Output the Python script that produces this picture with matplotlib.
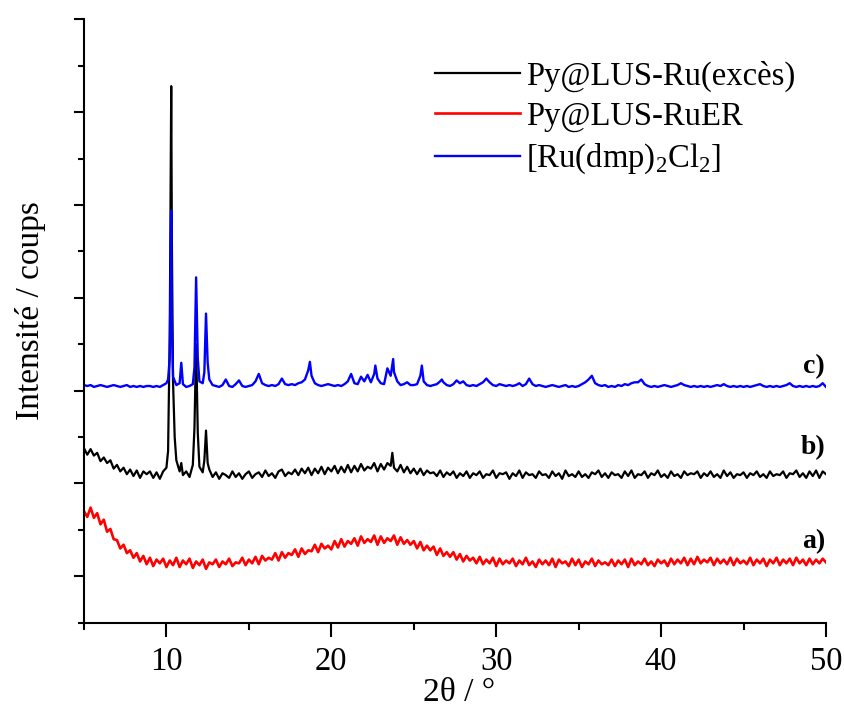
import numpy as np
import matplotlib
matplotlib.use("Agg")
import matplotlib.pyplot as plt
from matplotlib.ticker import MultipleLocator

plt.rcParams['font.family'] = ['Liberation Serif', 'DejaVu Serif']
plt.rcParams['mathtext.fontset'] = 'custom'
plt.rcParams['mathtext.rm'] = 'Liberation Serif'

# scan grid, step 0.2 deg (2theta)
two_theta = np.arange(5.0, 50.001, 0.2)

labels = ['Py@LUS-Ru(excès)', 'Py@LUS-RuER', r'[Ru(dmp)$_\mathrm{2}$Cl$_\mathrm{2}$]']
curve_tags = ['b)', 'a)', 'c)']

# intensities (offset units, one row = 2 deg)
black_y = [
    1.38, 1.31, 1.37, 1.30, 1.33, 1.24, 1.28, 1.22, 1.25, 1.16,
    1.20, 1.13, 1.17, 1.10, 1.15, 1.08, 1.14, 1.06, 1.13, 1.10,
    1.13, 1.06, 1.12, 1.05, 1.13, 1.17, 2.60, 2.10, 1.25, 1.13,
    1.09, 1.13, 1.07, 1.20, 2.50, 1.18, 1.12, 1.57, 1.15, 1.07,
    1.12, 1.05, 1.11, 1.09, 1.06, 1.13, 1.07, 1.11, 1.05, 1.10,
    1.13, 1.06, 1.10, 1.12, 1.07, 1.14, 1.08, 1.11, 1.06, 1.13,
    1.15, 1.08, 1.12, 1.10, 1.15, 1.09, 1.16, 1.11, 1.17, 1.09,
    1.16, 1.11, 1.18, 1.10, 1.17, 1.13, 1.19, 1.11, 1.18, 1.12,
    1.20, 1.12, 1.19, 1.13, 1.21, 1.14, 1.18, 1.16, 1.22, 1.13,
    1.21, 1.15, 1.22, 1.19, 1.17, 1.13, 1.20, 1.12, 1.18, 1.11,
    1.16, 1.10, 1.16, 1.09, 1.14, 1.11, 1.12, 1.08, 1.14, 1.07,
    1.12, 1.09, 1.13, 1.06, 1.11, 1.08, 1.13, 1.06, 1.11, 1.09,
    1.13, 1.06, 1.10, 1.09, 1.14, 1.06, 1.11, 1.10, 1.12, 1.05,
    1.11, 1.08, 1.14, 1.06, 1.12, 1.09, 1.10, 1.06, 1.13, 1.09,
    1.10, 1.06, 1.13, 1.08, 1.11, 1.05, 1.14, 1.08, 1.10, 1.07,
    1.13, 1.07, 1.10, 1.06, 1.12, 1.10, 1.14, 1.07, 1.11, 1.06,
    1.12, 1.09, 1.10, 1.06, 1.13, 1.08, 1.14, 1.06, 1.10, 1.09,
    1.13, 1.06, 1.11, 1.09, 1.14, 1.07, 1.10, 1.06, 1.13, 1.08,
    1.10, 1.06, 1.13, 1.09, 1.11, 1.10, 1.13, 1.06, 1.11, 1.08,
    1.13, 1.07, 1.10, 1.06, 1.14, 1.08, 1.12, 1.06, 1.10, 1.09,
    1.12, 1.06, 1.11, 1.09, 1.13, 1.07, 1.10, 1.06, 1.13, 1.08,
    1.10, 1.09, 1.13, 1.06, 1.11, 1.10, 1.14, 1.07, 1.11, 1.06,
    1.13, 1.08, 1.14, 1.06, 1.13, 1.10,
]
black_peak_x = [10.1, 10.25, 10.29, 10.33, 10.5, 10.9, 11.7, 11.9, 12.3, 12.5, 23.7]
black_peak_y = [1.35, 4.20, 5.28, 3.60, 1.50, 1.22, 1.60, 1.55, 1.25, 1.22, 1.33]

red_y = [
    0.70, 0.64, 0.74, 0.63, 0.68, 0.56, 0.61, 0.48, 0.51, 0.40,
    0.39, 0.30, 0.34, 0.25, 0.28, 0.20, 0.25, 0.16, 0.22, 0.13,
    0.20, 0.11, 0.18, 0.14, 0.19, 0.10, 0.17, 0.12, 0.20, 0.10,
    0.17, 0.13, 0.19, 0.09, 0.16, 0.12, 0.18, 0.08, 0.15, 0.13,
    0.18, 0.10, 0.16, 0.13, 0.19, 0.11, 0.15, 0.14, 0.20, 0.12,
    0.18, 0.14, 0.21, 0.13, 0.22, 0.17, 0.20, 0.18, 0.25, 0.17,
    0.26, 0.20, 0.25, 0.23, 0.29, 0.21, 0.30, 0.24, 0.28, 0.27,
    0.34, 0.26, 0.35, 0.30, 0.33, 0.29, 0.38, 0.31, 0.40, 0.32,
    0.38, 0.35, 0.41, 0.33, 0.43, 0.36, 0.40, 0.37, 0.44, 0.34,
    0.43, 0.36, 0.41, 0.38, 0.44, 0.34, 0.42, 0.35, 0.39, 0.34,
    0.38, 0.30, 0.37, 0.28, 0.33, 0.28, 0.32, 0.23, 0.30, 0.22,
    0.26, 0.21, 0.26, 0.18, 0.24, 0.16, 0.22, 0.17, 0.20, 0.14,
    0.21, 0.13, 0.18, 0.14, 0.20, 0.11, 0.19, 0.13, 0.17, 0.14,
    0.19, 0.11, 0.17, 0.13, 0.20, 0.12, 0.16, 0.10, 0.18, 0.13,
    0.17, 0.12, 0.19, 0.10, 0.18, 0.14, 0.16, 0.11, 0.19, 0.12,
    0.18, 0.10, 0.16, 0.13, 0.19, 0.11, 0.17, 0.13, 0.15, 0.12,
    0.18, 0.11, 0.17, 0.13, 0.18, 0.10, 0.19, 0.12, 0.16, 0.13,
    0.19, 0.12, 0.16, 0.11, 0.18, 0.14, 0.17, 0.11, 0.19, 0.13,
    0.18, 0.14, 0.20, 0.12, 0.19, 0.13, 0.21, 0.14, 0.18, 0.15,
    0.20, 0.12, 0.19, 0.14, 0.18, 0.13, 0.20, 0.12, 0.19, 0.14,
    0.17, 0.13, 0.20, 0.12, 0.18, 0.14, 0.19, 0.11, 0.18, 0.14,
    0.20, 0.12, 0.18, 0.14, 0.19, 0.12, 0.20, 0.14, 0.18, 0.12,
    0.19, 0.13, 0.18, 0.14, 0.19, 0.15,
]

blue_y = [
    2.06, 2.05, 2.06, 2.04, 2.05, 2.06, 2.05, 2.04, 2.05, 2.06,
    2.05, 2.04, 2.05, 2.06, 2.04, 2.05, 2.04, 2.05, 2.04, 2.05,
    2.05, 2.04, 2.05, 2.04, 2.06, 2.08, 2.35, 2.15, 2.06, 2.08,
    2.07, 2.04, 2.05, 2.07, 3.22, 2.10, 2.08, 2.83, 2.12, 2.06,
    2.05, 2.04, 2.06, 2.12, 2.05, 2.04, 2.07, 2.11, 2.05, 2.04,
    2.05, 2.06, 2.10, 2.18, 2.08, 2.06, 2.05, 2.06, 2.05, 2.07,
    2.13, 2.07, 2.06, 2.07, 2.06, 2.08, 2.09, 2.12, 2.22, 2.16,
    2.08, 2.06, 2.05, 2.06, 2.07, 2.06, 2.05, 2.06, 2.05, 2.07,
    2.10, 2.18, 2.08, 2.07, 2.15, 2.10, 2.17, 2.09, 2.18, 2.13,
    2.08, 2.07, 2.24, 2.16, 2.20, 2.10, 2.06, 2.07, 2.09, 2.06,
    2.06, 2.07, 2.16, 2.10, 2.06, 2.05, 2.06, 2.07, 2.10, 2.09,
    2.06, 2.05, 2.07, 2.11, 2.08, 2.10, 2.06, 2.05, 2.06, 2.05,
    2.07, 2.09, 2.13, 2.09, 2.06, 2.05, 2.07, 2.06, 2.05, 2.06,
    2.05, 2.06, 2.08, 2.05, 2.07, 2.13, 2.07, 2.05, 2.06, 2.05,
    2.04, 2.05, 2.06, 2.05, 2.04, 2.05, 2.06, 2.04, 2.05, 2.04,
    2.05, 2.07, 2.09, 2.12, 2.16, 2.08, 2.06, 2.05, 2.06, 2.04,
    2.05, 2.04, 2.06, 2.05, 2.07, 2.06, 2.08, 2.09, 2.09, 2.12,
    2.07, 2.05, 2.04, 2.05, 2.04, 2.05, 2.06, 2.05, 2.04, 2.05,
    2.06, 2.08, 2.06, 2.05, 2.04, 2.05, 2.04, 2.05, 2.04, 2.05,
    2.04, 2.05, 2.06, 2.05, 2.07, 2.05, 2.04, 2.05, 2.04, 2.05,
    2.04, 2.05, 2.04, 2.05, 2.06, 2.07, 2.05, 2.04, 2.05, 2.04,
    2.05, 2.04, 2.05, 2.06, 2.08, 2.05, 2.04, 2.05, 2.04, 2.05,
    2.04, 2.05, 2.04, 2.05, 2.08, 2.04,
]
blue_peak_x = [10.1, 10.25, 10.29, 10.33, 10.9, 11.7, 11.9, 12.3, 12.5,
               18.7, 22.67, 23.75, 25.49, 26.7]
blue_peak_y = [2.12, 3.20, 3.94, 2.70, 2.30, 2.25, 2.35, 2.20, 2.30,
               2.31, 2.27, 2.34, 2.27, 2.12]


def with_peaks(x, y, px, py):
    xx = np.concatenate([x, px])
    yy = np.concatenate([y, py])
    order = np.argsort(xx)
    return xx[order], yy[order]


fig = plt.figure(figsize=(8.45, 7.07), dpi=100)
ax = fig.add_axes([0.0994, 0.1192, 0.8781, 0.8535])

bx, by = with_peaks(two_theta, np.array(black_y), black_peak_x, black_peak_y)
cx, cy = with_peaks(two_theta, np.array(blue_y), blue_peak_x, blue_peak_y)

ax.plot(bx, by, color='black', lw=1.6, label=labels[0])
ax.plot(two_theta, red_y, color='red', lw=1.9, label=labels[1])
ax.plot(cx, cy, color='blue', lw=1.7, label=labels[2])

ax.set_xlim(5, 50)
ax.set_ylim(-0.5, 6)
ax.xaxis.set_major_locator(MultipleLocator(10))
ax.xaxis.set_minor_locator(MultipleLocator(5))
ax.yaxis.set_major_locator(MultipleLocator(1))
ax.yaxis.set_minor_locator(MultipleLocator(0.5))

for s in ['top', 'right']:
    ax.spines[s].set_visible(False)
for s in ['left', 'bottom']:
    ax.spines[s].set_linewidth(1.5)

ax.tick_params(axis='x', which='major', length=10, width=1.5, labelsize=23.5, pad=7)
ax.tick_params(axis='x', which='minor', length=5, width=1.5)
ax.tick_params(axis='y', which='major', length=7.2, width=1.5, labelleft=False)
ax.tick_params(axis='y', which='minor', length=4.3, width=1.5)

ax.set_xlabel('2θ / °', fontsize=24)
ax.xaxis.set_label_coords(0.505, -0.09)
ax.set_ylabel('Intensité / coups', fontsize=24)
ax.yaxis.set_label_coords(-0.051, 0.517)

ax.text(49.95, 1.39, curve_tags[0], fontsize=20, fontweight='bold', ha='right', va='center')
ax.text(49.95, 0.37, curve_tags[1], fontsize=20, fontweight='bold', ha='right', va='center')
ax.text(49.95, 2.26, curve_tags[2], fontsize=20, fontweight='bold', ha='right', va='center')

ax.legend(loc='upper left', bbox_to_anchor=(0.473, 0.932), frameon=False, fontsize=23.5,
          handlelength=2.6, handletextpad=0.2, labelspacing=0.3, borderpad=0,
          borderaxespad=0)

plt.savefig('out.png', dpi=100)
